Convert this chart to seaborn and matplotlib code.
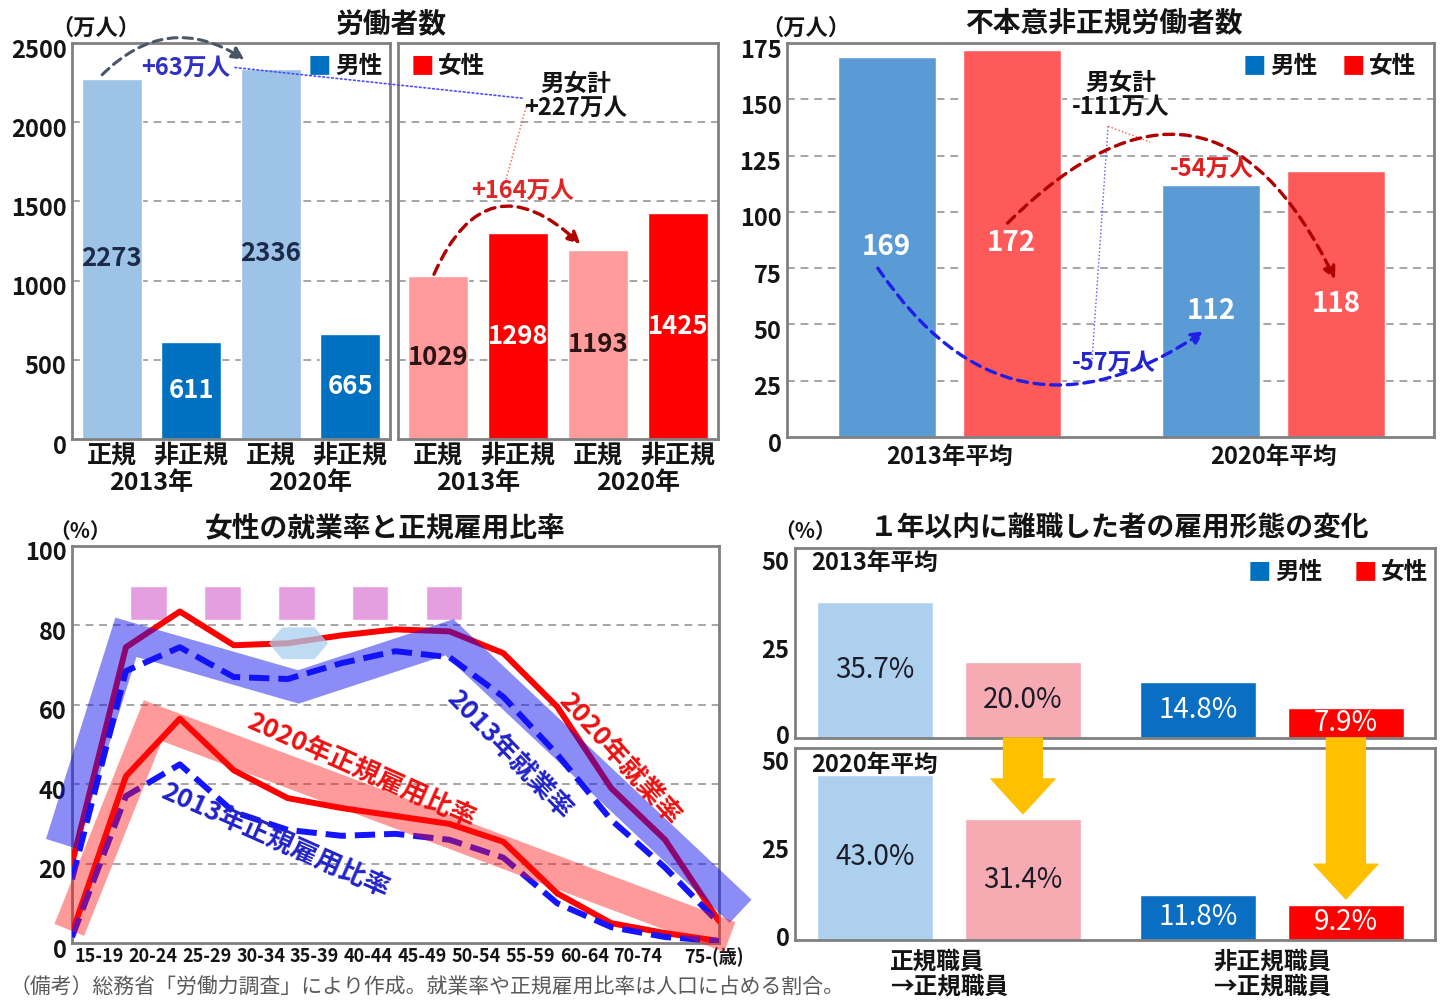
import numpy as np
import pandas as pd
import matplotlib
matplotlib.use("Agg")
import matplotlib.pyplot as plt
import matplotlib.transforms as mtransforms
import seaborn as sns
from matplotlib.patches import ConnectionPatch, Polygon

# ----- 労働者数（万人） -----
worker_kinds = ["正規", "非正規", "正規", "非正規"]
worker_years = ["2013年", "2020年"]
male_workers = [2273, 611, 2336, 665]
female_workers = [1029, 1298, 1193, 1425]

# ----- 不本意非正規労働者数（万人） -----
involuntary_years = ["2013年平均", "2020年平均"]
involuntary_male = [169, 112]
involuntary_female = [172, 118]

# ----- 女性の就業率と正規雇用比率（%） -----
age_groups = ["15-19", "20-24", "25-29", "30-34", "35-39", "40-44", "45-49",
              "50-54", "55-59", "60-64", "65-69", "70-74", "75-"]
age_tick_labels = ["15-19", "20-24", "25-29", "30-34", "35-39", "40-44", "45-49",
                   "50-54", "55-59", "60-64", "70-74", "75-(歳)"]
emp_rate_2020 = [20, 74.5, 83.5, 75, 75.5, 77.5, 79, 78.5, 73, 59.5, 39, 26, 5.5]
emp_rate_2013 = [16, 68.5, 74.5, 67, 66.5, 70.5, 73.5, 72, 62, 47.5, 31, 19, 5]
reg_ratio_2020 = [2.5, 42, 56.5, 43.5, 36.5, 34, 32, 30, 25.5, 12.5, 5, 2.5, 0.5]
reg_ratio_2013 = [1.5, 37, 45, 33, 28.5, 27, 27.5, 26, 21.5, 10, 4, 1.5, 0.5]

# ----- 1年以内に離職した者の雇用形態の変化（%） -----
transition_kinds = ["正規職員\n→正規職員", "非正規職員\n→正規職員"]
transition_2013_male = [35.7, 14.8]
transition_2013_female = [20.0, 7.9]
transition_2020_male = [43.0, 11.8]
transition_2020_female = [31.4, 9.2]

sexes = ["男性", "女性"]

# ---------------------------------------------------------------------------
sns.set_style("white")
plt.rcParams["font.family"] = ["Noto Sans CJK JP", "DejaVu Sans"]
plt.rcParams["font.weight"] = "bold"
plt.rcParams["axes.unicode_minus"] = False

W, H = 1445, 1001
fig = plt.figure(figsize=(W / 100, H / 100), dpi=100)
fig.patch.set_facecolor("white")

FRAME = "#808080"
GRID = "#a5a5a5"
INK = "#141414"


def rect(x0, y0, x1, y1):
    return [x0 / W, 1 - y1 / H, (x1 - x0) / W, (y1 - y0) / H]


def ftext(x, y, s, **kw):
    kw.setdefault("ha", "center")
    kw.setdefault("va", "center")
    kw.setdefault("fontweight", "bold")
    kw.setdefault("color", INK)
    return fig.text(x / W, 1 - y / H, s, **kw)


def frame(ax, grid_levels, ylim, yticks, show_ylabels=True, tick_size=17,
          label_shifts=None):
    ax.set_ylim(*ylim)
    yticks = list(yticks)
    ax.set_yticks(yticks)
    if not show_ylabels:
        ax.set_yticklabels([])
    for s in ax.spines.values():
        s.set_visible(True)
        s.set_color(FRAME)
        s.set_linewidth(2.0)
    ax.tick_params(length=0, labelsize=tick_size, pad=4, colors=INK)
    # value labels sit a few pixels below their tick
    if label_shifts is None:
        label_shifts = [-5] * len(yticks)
    for lab, dy in zip(ax.get_yticklabels(), label_shifts):
        shift = mtransforms.ScaledTranslation(0, dy / 100, fig.dpi_scale_trans)
        lab.set_transform(lab.get_transform() + shift)
    for g in grid_levels:
        ax.axhline(g, color=GRID, lw=1.4, ls=(0, (4, 3)), zorder=0)
    ax.set_xlabel("")
    ax.set_ylabel("")


def legend_pair(x_sq1, x_sq2, y, c1, c2):
    ftext(x_sq1, y, "■", color=c1, fontsize=17)
    ftext(x_sq1 + 16, y, sexes[0], fontsize=17, ha="left")
    ftext(x_sq2, y, "■", color=c2, fontsize=17)
    ftext(x_sq2 + 16, y, sexes[1], fontsize=17, ha="left")


# ======================= 労働者数 =======================
LB, DB, LP, RD = "#9dc3e6", "#0070c0", "#ff9b9b", "#ff0000"
ax_m = fig.add_axes(rect(72, 43, 390, 439))
ax_f = fig.add_axes(rect(398, 43, 718, 439))
panels = [(ax_m, male_workers, [LB, DB, LB, DB], ["#1c2b4a", "white"]),
          (ax_f, female_workers, [LP, RD, LP, RD], ["#2a1414", "white"])]
for k, (ax, vals, cols, tcols) in enumerate(panels):
    keys = [f"{kind}_{i}" for i, kind in enumerate(worker_kinds)]
    sns.barplot(x=keys, y=vals, hue=keys, palette=cols, width=0.755,
                saturation=1, legend=False, ax=ax)
    frame(ax, [500, 1000, 1500, 2000], (0, 2500), range(0, 2501, 500),
          show_ylabels=(k == 0))
    ax.set_xlim(-0.5, 3.5)
    ax.set_xticks(range(4), worker_kinds, fontsize=18, fontweight="bold")
    ax.tick_params(axis="x", pad=3)
    for i, yr in enumerate(worker_years):
        ax.text(0.5 + 2 * i, -0.11, yr, transform=ax.get_xaxis_transform(),
                ha="center", va="center", fontsize=18, fontweight="bold", color=INK)
    for i, p in enumerate(ax.patches):
        h = p.get_height()
        ax.text(p.get_x() + p.get_width() / 2, h / 2, f"{h:.0f}", ha="center",
                va="center", fontsize=18.5, fontweight="bold", color=tcols[i % 2])

# change annotations
ax_m.annotate("", xy=(1.67, 2395), xytext=(-0.12, 2300),
              arrowprops=dict(arrowstyle="-|>", ls=(0, (3, 2)), color="#4a5568", lw=2.2,
                              connectionstyle="arc3,rad=-0.4", mutation_scale=18,
                              shrinkA=0, shrinkB=0))
ax_m.text(0.93, 2345, "+63万人", ha="center", va="center", fontsize=17,
          fontweight="bold", color="#3030c8")
ax_f.annotate("", xy=(1.78, 1230), xytext=(-0.05, 1040),
              arrowprops=dict(arrowstyle="-|>", ls=(0, (3, 2)), color="#b00000", lw=2.4,
                              connectionstyle="arc3,rad=-0.7", mutation_scale=18,
                              shrinkA=0, shrinkB=0))
ax_f.text(1.05, 1565, "+164万人", ha="center", va="center", fontsize=17,
          fontweight="bold", color="#e02525")
ax_f.text(1.72, 2165, "男女計\n+227万人", ha="center", va="center", fontsize=17,
          fontweight="bold", color=INK, linespacing=1.0)
fig.add_artist(ConnectionPatch(xyA=(1.55, 2345), coordsA=ax_m.transData,
                               xyB=(1.08, 2150), coordsB=ax_f.transData,
                               color="#4b4bff", lw=1.2, ls=":"))
ax_f.plot([0.85, 1.11], [1640, 2110], color="#ff5050", lw=1.0, ls=":")

legend_pair(319, 422, 66, DB, RD)
ftext(391, 24, "労働者数", fontsize=20)
ftext(96, 28, "（万人）", fontsize=16)

# ======================= 不本意非正規労働者数 =======================
B2, R2 = "#5b9bd5", "#ff5a5a"
ax_u = fig.add_axes(rect(787, 43, 1434, 437))
inv_df = pd.DataFrame({"year": involuntary_years * 2,
                       "sex": [sexes[0]] * 2 + [sexes[1]] * 2,
                       "value": involuntary_male + involuntary_female})
sns.barplot(data=inv_df, x="year", y="value", hue="sex", hue_order=sexes,
            palette=[B2, R2], width=0.77, gap=0.214, saturation=1,
            legend=False, ax=ax_u)
frame(ax_u, [25, 50, 75, 100, 125, 150], (0, 175), range(0, 176, 25))
ax_u.set_xlim(-0.5, 1.495)
ax_u.tick_params(axis="x", labelsize=17, pad=6)
for p in ax_u.patches:
    h = p.get_height()
    ax_u.text(p.get_x() + p.get_width() / 2, h / 2, f"{h:.0f}", ha="center",
              va="center", fontsize=20, fontweight="bold", color="white")

ax_u.annotate("", xy=(1.19, 70), xytext=(0.18, 95),
              arrowprops=dict(arrowstyle="-|>", ls=(0, (3, 2)), color="#b00000", lw=2.4,
                              connectionstyle="arc3,rad=-0.7", mutation_scale=18,
                              shrinkA=0, shrinkB=0))
ax_u.annotate("", xy=(0.786, 47), xytext=(-0.22, 75),
              arrowprops=dict(arrowstyle="-|>", ls=(0, (3, 2)), color="#1f1fe6", lw=2.4,
                              connectionstyle="arc3,rad=0.5", mutation_scale=18,
                              shrinkA=0, shrinkB=0))
ax_u.plot([0.49, 0.44], [138, 33], color="#5555ff", lw=1.0, ls=":")
ax_u.plot([0.49, 0.62], [138, 131], color="#ff5050", lw=1.0, ls=":")
ax_u.text(0.53, 152, "男女計\n-111万人", ha="center", va="center", fontsize=17,
          fontweight="bold", color=INK, linespacing=1.0)
ax_u.text(0.81, 119, "-54万人", ha="center", va="center", fontsize=17,
          fontweight="bold", color="#e02020")
ax_u.text(0.507, 33, "-57万人", ha="center", va="center", fontsize=17,
          fontweight="bold", color="#2525cc")
legend_pair(1254, 1353, 66, DB, RD)
ftext(1104, 23, "不本意非正規労働者数", fontsize=20)
ftext(806, 28, "（万人）", fontsize=16)

# ======================= 女性の就業率と正規雇用比率 =======================
ax_l = fig.add_axes(rect(72, 546, 719, 943))
xs = np.arange(len(age_groups))
frame(ax_l, [20, 40, 60, 80], (0, 100), range(0, 101, 20))
ax_l.set_xlim(0, 12)
ax_l.set_xticks(list(np.arange(11) + 0.5) + [11.9], age_tick_labels)
ax_l.tick_params(axis="x", labelsize=13, pad=3)

# decorative markers along the top
ax_l.bar([1.42, 2.79, 4.16, 5.53, 6.90], 8.7, bottom=81.3, width=0.68,
         color="#e59ee0", zorder=2)

dash = (0, (3.4, 1.5))
sns.lineplot(x=xs, y=emp_rate_2020, color="#ff0000", lw=4.3, ax=ax_l, zorder=3)
sns.lineplot(x=xs, y=reg_ratio_2020, color="#ff0000", lw=4.3, ax=ax_l, zorder=3)
sns.lineplot(x=xs, y=emp_rate_2013, color="#1414ff", lw=4.3, linestyle=dash,
             ax=ax_l, zorder=3)
sns.lineplot(x=xs, y=reg_ratio_2013, color="#1414ff", lw=4.3, linestyle=dash,
             ax=ax_l, zorder=3)

# translucent guide bands
ax_l.plot([-0.2, 1.0, 4.2, 7.0, 12.4], [25, 77, 64.5, 77, 8], color="#1010f0",
          alpha=0.48, lw=23, solid_joinstyle="miter", solid_capstyle="butt",
          zorder=4, clip_on=False)
ax_l.plot([-0.05, 1.5, 12.2], [3.3, 56, 1.5], color="#ff1010", alpha=0.42,
          lw=23, solid_joinstyle="miter", solid_capstyle="butt", zorder=4,
          clip_on=False)
ax_l.add_patch(Polygon([(3.65, 75.5), (3.9, 79.5), (4.5, 79.5), (4.75, 75.5),
                        (4.5, 71.5), (3.9, 71.5)], closed=True,
                       facecolor="#a8d0f0", alpha=0.75, edgecolor="none", zorder=5))

ax_l.text(5.36, 43.3, "2020年正規雇用比率", rotation=-24, rotation_mode="anchor",
          ha="center", va="center", fontsize=19, fontweight="bold", color="#ee1111", zorder=6)
ax_l.text(3.77, 25.7, "2013年正規雇用比率", rotation=-24, rotation_mode="anchor",
          ha="center", va="center", fontsize=19, fontweight="bold", color="#2222cc", zorder=6)
ax_l.text(8.11, 47.5, "2013年就業率", rotation=-46, rotation_mode="anchor",
          ha="center", va="center", fontsize=19, fontweight="bold", color="#2222cc", zorder=6)
ax_l.text(10.15, 46.5, "2020年就業率", rotation=-48, rotation_mode="anchor",
          ha="center", va="center", fontsize=19, fontweight="bold", color="#ee1111", zorder=6)
ftext(385, 528, "女性の就業率と正規雇用比率", fontsize=20)
ftext(80, 531, "（%）", fontsize=15)

# ======================= 雇用形態の変化 =======================
ax_r1 = fig.add_axes(rect(795, 548, 1435, 738))
ax_r2 = fig.add_axes(rect(795, 748, 1435, 940))
tr_colors = {(0, 0): "#acd0ee", (0, 1): "#f6aab2", (1, 0): "#0a6fc2", (1, 1): "#ff0000"}
tr_text = {0: "#1c1c28", 1: "white"}
for ax, male, female in [(ax_r1, transition_2013_male, transition_2013_female),
                         (ax_r2, transition_2020_male, transition_2020_female)]:
    df = pd.DataFrame({"kind": transition_kinds * 2,
                       "sex": [sexes[0]] * 2 + [sexes[1]] * 2,
                       "value": male + female})
    sns.barplot(data=df, x="kind", y="value", hue="sex", hue_order=sexes,
                palette=[DB, RD], width=0.916, gap=0.214, saturation=1,
                legend=False, ax=ax)
    frame(ax, [], (0, 50), [0, 25, 50], label_shifts=[3, -5, -12])
    ax.set_xlim(-0.477, 1.505)
    for p in ax.patches:
        cx = p.get_x() + p.get_width() / 2
        ci = int(round(cx))
        si = 0 if cx < ci else 1
        p.set_facecolor(tr_colors[(ci, si)])
        h = p.get_height()
        ax.text(cx, h / 2, f"{h:.1f}%", ha="center", va="center", fontsize=20,
                fontweight="normal", color=tr_text[ci])

ax_r1.set_xticks([])
ax_r2.set_xticks([0, 1], transition_kinds)
for t in ax_r2.get_xticklabels():
    t.set_multialignment("left")
    t.set_linespacing(1.05)
ax_r2.tick_params(axis="x", labelsize=17, pad=7)

for p in ax_r2.patches:
    cx = p.get_x() + p.get_width() / 2
    if cx > round(cx):
        ax_r2.annotate("", xy=(cx, p.get_height() + 1.5), xycoords="data",
                       xytext=(cx, 0), textcoords=ax_r1.transData,
                       arrowprops=dict(arrowstyle="simple,head_length=1.25,head_width=2.3,tail_width=1.4",
                                       color="#ffc000", shrinkA=0, shrinkB=0,
                                       mutation_scale=20),
                       annotation_clip=False)

ax_r1.text(0.025, 0.92, "2013年平均", transform=ax_r1.transAxes, ha="left",
           va="center", fontsize=17, fontweight="bold", color=INK)
ax_r2.text(0.025, 0.91, "2020年平均", transform=ax_r2.transAxes, ha="left",
           va="center", fontsize=17, fontweight="bold", color=INK)
legend_pair(1259, 1365, 572, DB, RD)
ftext(1120, 528, "１年以内に離職した者の雇用形態の変化", fontsize=20)
ftext(805, 531, "（%）", fontsize=15)

ftext(10, 988, "（備考）総務省「労働力調査」により作成。就業率や正規雇用比率は人口に占める割合。",
      ha="left", fontsize=15, fontweight="normal", color="#5a5a5a")

fig.savefig("out.png", dpi=100, facecolor="white")
